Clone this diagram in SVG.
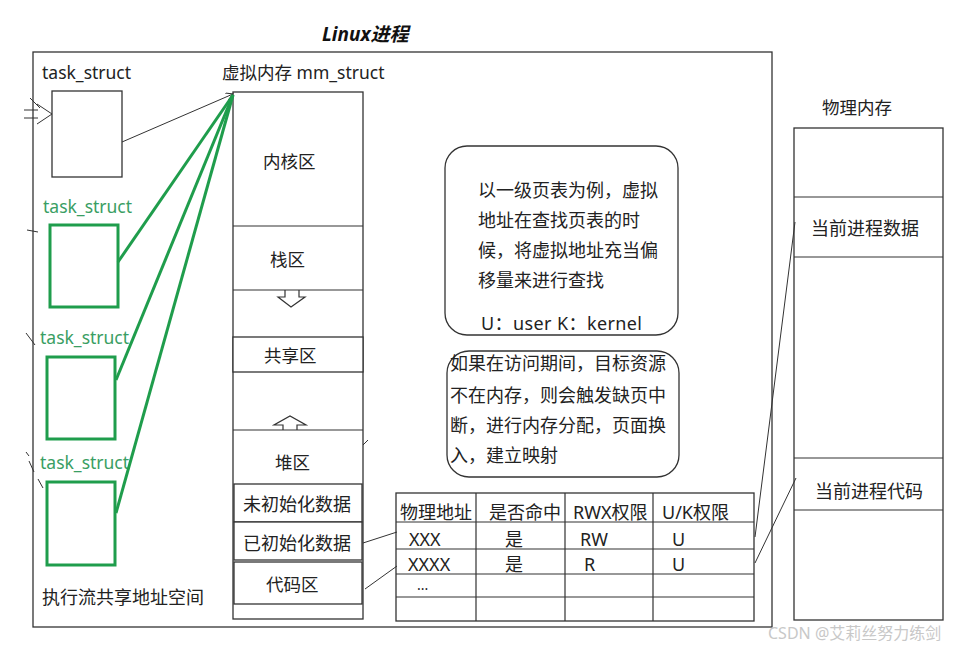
<svg xmlns="http://www.w3.org/2000/svg" width="975" height="650" viewBox="0 0 975 650">
<defs>
<style>
.t{font-family:"Noto Sans","Noto Sans CJK SC",sans-serif;font-size:18px;fill:#222}
.s{font-family:"Noto Sans","Noto Sans CJK SC",sans-serif;font-size:17.5px;fill:#222}
.g{font-family:"Noto Sans","Noto Sans CJK SC",sans-serif;font-size:17.5px;fill:#3a9e63}
.box{fill:#fff;stroke:#333;stroke-width:1.3}
.ln{fill:none;stroke:#333;stroke-width:1.2}
.gb{fill:#fff;stroke:#1f9d4c;stroke-width:3}
.gl{fill:none;stroke:#1f9d4c;stroke-width:3}
.thin{fill:none;stroke:#333;stroke-width:1}
</style>
<marker id="ah" markerWidth="8" markerHeight="8" refX="7" refY="4" orient="auto" markerUnits="userSpaceOnUse">
<path d="M0,0 L7,4 L0,8" fill="none" stroke="#333" stroke-width="1"/>
</marker>
</defs>
<rect width="975" height="650" fill="#fff"/>

<text x="322" y="41" style="font-family:'Noto Sans','Noto Sans CJK SC',sans-serif;font-size:19px;font-weight:bold;font-style:italic;fill:#111">Linux进程</text>

<g id="process">
<rect x="33" y="52" width="739" height="575" class="box" stroke-width="1.6"/>
</g>

<g id="marks" class="thin">
<path d="M24,110 H38 M24,118 H38 M37,104 L52,114 L37,124"/>
<path d="M30,98 L40,108"/>
<path d="M27,230 L38,232"/>
<path d="M26,333 L35,345"/>
<path d="M26,452 L29,456 M29,461 L34,472 M38,479 L43,488"/>
<path d="M361,447 L368,440"/>
</g>

<g id="task1">
<text x="42" y="79" class="s">task_struct</text>
<rect x="52" y="91" width="70" height="86" class="box"/>
</g>
<g id="task2">
<text x="43" y="213" class="g">task_struct</text>
<rect x="50" y="225" width="68" height="82" class="gb"/>
</g>
<g id="task3">
<text x="40" y="344" class="g">task_struct</text>
<rect x="47" y="357" width="68" height="82" class="gb"/>
</g>
<g id="task4">
<text x="40" y="469" class="g">task_struct</text>
<rect x="47" y="482" width="68" height="83" class="gb"/>
</g>
<text x="42" y="604" class="t">执行流共享地址空间</text>

<g id="mm_struct">
<text x="222" y="79" class="s">虚拟内存 mm_struct</text>
<rect x="233" y="92" width="130" height="527" class="box"/>
<line x1="233" y1="226" x2="363" y2="226" class="ln"/>
<line x1="233" y1="290" x2="363" y2="290" class="ln"/>
<rect x="233" y="337" width="130" height="35" class="box"/>
<line x1="233" y1="430" x2="363" y2="430" class="ln"/>
<rect x="234" y="484" width="128" height="38" class="box"/>
<rect x="234" y="522" width="128" height="38" class="box"/>
<rect x="234" y="562" width="128" height="42" class="box"/>
<path d="M285,290 V297 H278 L291,307 L305,297 H299 V290" class="ln" fill="#fff"/>
<path d="M283,430 V425 H274 L290,416 L306,425 H297 V430" class="ln" fill="#fff"/>
<text x="263" y="168" class="s">内核区</text>
<text x="270" y="266" class="s">栈区</text>
<text x="264" y="362" class="s">共享区</text>
<text x="275" y="469" class="s">堆区</text>
<text x="243" y="511" class="t">未初始化数据</text>
<text x="243" y="550" class="t">已初始化数据</text>
<text x="266" y="591" class="s">代码区</text>
</g>

<g id="note1">
<rect x="445" y="146" width="233" height="189" rx="22" class="box"/>
<text x="478" y="197" class="t">以一级页表为例，虚拟</text>
<text x="478" y="227" class="t">地址在查找页表的时</text>
<text x="478" y="257" class="t">候，将虚拟地址充当偏</text>
<text x="478" y="287" class="t">移量来进行查找</text>
<text x="481" y="330" class="t" textLength="161" lengthAdjust="spacing">U：user  K：kernel</text>
</g>

<g id="note2">
<rect x="447" y="351" width="232" height="126" rx="22" class="box"/>
<text x="450" y="370" class="t">如果在访问期间，目标资源</text>
<text x="450" y="402" class="t">不在内存，则会触发缺页中</text>
<text x="450" y="432" class="t">断，进行内存分配，页面换</text>
<text x="450" y="462" class="t">入，建立映射</text>
</g>

<g id="page_table">
<rect x="396" y="493" width="358" height="128" class="box"/>
<path d="M476,493 V621 M565,493 V621 M653,493 V621 M396,522 H754 M396,549 H754 M396,574 H754 M396,597 H754" class="ln"/>
<text x="400" y="519" class="t">物理地址</text>
<text x="489" y="519" class="t">是否命中</text>
<text x="573" y="519" class="t">RWX权限</text>
<text x="662" y="519" class="t">U/K权限</text>
<text x="409" y="546" class="t">XXX</text>
<text x="505" y="546" class="t">是</text>
<text x="580" y="546" class="t">RW</text>
<text x="672" y="546" class="t">U</text>
<text x="408" y="571" class="t">XXXX</text>
<text x="505" y="571" class="t">是</text>
<text x="584" y="571" class="t">R</text>
<text x="672" y="571" class="t">U</text>
<text x="417" y="590" style="font-family:'Noto Sans',sans-serif;font-size:14px;fill:#222">...</text>
</g>

<g id="physical_memory">
<text x="822" y="114" class="s">物理内存</text>
<rect x="794" y="128" width="149" height="492" class="box"/>
<path d="M794,197 H943 M794,257 H943 M794,458 H943 M794,510 H943" class="ln"/>
<text x="811" y="235" class="t">当前进程数据</text>
<text x="815" y="498" class="t">当前进程代码</text>
</g>

<g id="connectors">
<line x1="122" y1="142" x2="233" y2="94" class="thin" marker-end="url(#ah)"/>
<line x1="118" y1="262" x2="233" y2="95" class="gl"/>
<line x1="116" y1="380" x2="233" y2="95" class="gl"/>
<line x1="116" y1="513" x2="233" y2="95" class="gl"/>
<line x1="363" y1="543" x2="397" y2="532" class="thin"/>
<line x1="365" y1="589" x2="397" y2="566" class="thin"/>
<line x1="755" y1="537" x2="795" y2="222" class="thin"/>
<line x1="755" y1="563" x2="796" y2="478" class="thin"/>
</g>

<text x="768" y="639" style="font-family:'Noto Sans','Noto Sans CJK SC',sans-serif;font-size:16px;fill:#c8c8c8">CSDN @艾莉丝努力练剑</text>
</svg>
